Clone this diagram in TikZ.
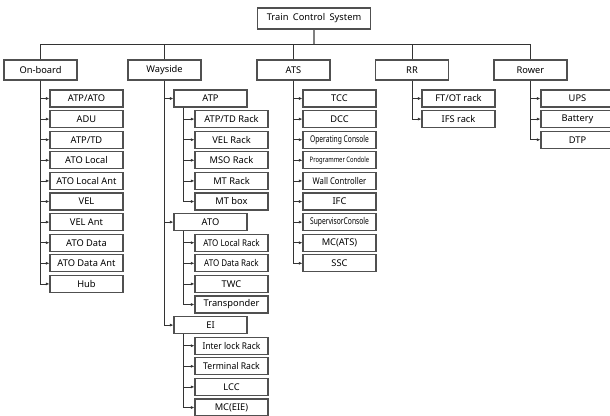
\documentclass[tikz,border=0pt]{standalone}
\usepackage{fontspec}
\setmainfont{Noto Sans}
\usetikzlibrary{arrows.meta}
\definecolor{lnc}{HTML}{333333}
\definecolor{bxc}{HTML}{505050}
\newcommand{\cnd}[2]{\scalebox{#1}[1]{#2}}
\begin{document}
\begin{tikzpicture}[x=1pt,y=-1pt,
  box/.style={draw=bxc, line width=1.1pt, minimum width=73pt, minimum height=17pt, inner sep=0pt,
    font=\fontsize{9.3}{10}\selectfont, text=black},
  topbox/.style={box, minimum height=20pt},
  conn/.style={draw=lnc, line width=0.8pt},
  arr/.style={conn, -{Latex[length=3.5pt,width=3pt]}}]
\useasboundingbox (0,0) rectangle (610,415);
\fill[white] (0,0) rectangle (610,415);
% title and level 1
\node[box, minimum width=113pt, minimum height=21pt] (title) at (314,18.5) {Train\hspace{2pt} Control\hspace{2pt} System};
\node[topbox] (onb) at (40.5,70) {On-board};
\node[topbox] (way) at (164.5,70) {Wayside};
\node[topbox] (ats) at (293.5,70) {ATS};
\node[topbox] (rr) at (412,70) {RR};
\node[topbox] (row) at (530.5,70) {Rower};
\coordinate (bus) at (0,44);
\draw[conn, draw=gray, line width=1.5pt] (title.south) -- (title.south |- bus);
\draw[conn] (onb.north |- bus) -- (row.north |- bus);
\foreach \n in {onb,way,ats,rr,row} \draw[conn] (\n.north |- bus) -- (\n.north);
% On-board
\foreach \t [count=\i from 0] in {{ATP/ATO},ADU,{ATP/TD},ATO Local,ATO Local Ant,VEL,VEL Ant,ATO Data,ATO Data Ant,Hub}{
  \node[box] (ob\i) at (86.5,{98.5+20.6*\i}) {\t};
  \draw[arr] (onb.south) |- (ob\i.west);
}
% Wayside
\node[box] (wATP) at (210.5,98.5) {ATP};
\node[box] (wATO) at (210.5,{98.5+20.6*6}) {ATO};
\node[box] (wEI) at (210.5,{98.5+20.6*11}) {EI};
\foreach \n in {wATP,wATO,wEI} \draw[arr] (way.south) |- (\n.west);
\foreach \t [count=\i from 1] in {{ATP/TD Rack},VEL Rack,MSO Rack,MT Rack,MT box}{
  \node[box] (pa\i) at (231.5,{98.5+20.6*\i}) {\t};
  \draw[arr] ([xshift=10pt]wATP.south west) |- (pa\i.west);
}
\foreach \t [count=\i from 7] in {{\cnd{0.86}{ATO Local Rack}},{\cnd{0.86}{ATO Data Rack}},TWC,Transponder}{
  \node[box] (pb\i) at (231.5,{98.5+20.6*\i}) {\t};
  \draw[arr] ([xshift=10pt]wATO.south west) |- (pb\i.west);
}
\foreach \t [count=\i from 12] in {{\cnd{0.9}{Inter lock Rack}},{\cnd{0.93}{Terminal Rack}},LCC,MC(EIE)}{
  \node[box] (pc\i) at (231.5,{98.5+20.6*\i}) {\t};
  \draw[arr] ([xshift=10pt]wEI.south west) |- (pc\i.west);
}
% ATS
\foreach \t [count=\i from 0] in {TCC,DCC,{\cnd{0.72}{Operating Console}},{\fontsize{7.5}{8}\selectfont\cnd{0.78}{Programmer Condole}},{\cnd{0.83}{Wall Controller}},IFC,{\cnd{0.72}{SupervisorConsole}},MC(ATS),SSC}{
  \node[box] (at\i) at (339.5,{98.5+20.6*\i}) {\t};
  \draw[arr] (ats.south) |- (at\i.west);
}
% RR
\foreach \t [count=\i from 0] in {{FT/OT rack},IFS rack}{
  \node[box] (r\i) at (458.5,{98.5+20.6*\i}) {\t};
  \draw[arr] (rr.south) |- (r\i.west);
}
% Rower
\foreach \t [count=\i from 0] in {UPS,Battery,DTP}{
  \node[box] (p\i) at (577.5,{98.5+20.6*\i}) {\t};
  \draw[arr] (row.south) |- (p\i.west);
}
\end{tikzpicture}
\end{document}
